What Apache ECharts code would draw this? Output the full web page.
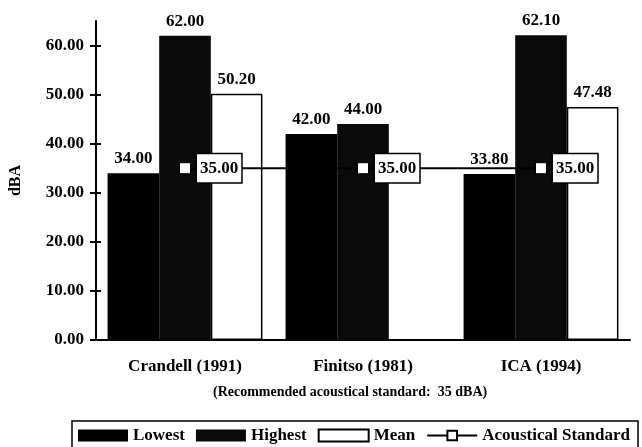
<!DOCTYPE html>
<html>
<head>
<meta charset="utf-8">
<script src="https://cdn.jsdelivr.net/npm/echarts@6/dist/echarts.min.js"></script>
<style>
  html, body { margin: 0; padding: 0; background: #fff; }
  #chart { width: 642px; height: 447px; }
</style>
</head>
<body>
<div id="chart"></div>
<script>
const categories = ['Crandell (1991)', 'Finitso (1981)', 'ICA (1994)'];
const lowest = [34.00, 42.00, 33.80];
const highest = [62.00, 44.00, 62.10];
const mean = [50.20, null, 47.48];
const standard = [35.00, 35.00, 35.00];
const yTicks = [0, 10, 20, 30, 40, 50, 60];

const serif = '"Liberation Serif", "DejaVu Serif", serif';
const fmt = p => p.value == null ? '' : Number(p.value).toFixed(2);

const barLabel = {
    show: true,
    position: 'top',
    distance: 6,
    formatter: fmt,
    color: '#000',
    fontFamily: serif,
    fontWeight: 'bold',
    fontSize: 17
};

const myChart = echarts.init(document.getElementById('chart'));

const option = {
    animation: false,
    backgroundColor: '#fff',
    textStyle: { fontFamily: serif, color: '#000' },
    grid: { left: 93, right: 12, top: 21, bottom: 107 },
    legend: {
        left: 72,
        top: 421,
        width: 600,
        padding: [6, 8, 10, 6],
        borderColor: '#000',
        borderWidth: 1.5,
        itemWidth: 50,
        itemHeight: 12,
        itemGap: 11,
        textStyle: { fontFamily: serif, fontWeight: 'bold', fontSize: 17, color: '#000' },
        data: [
            { name: 'Lowest', icon: 'rect' },
            { name: 'Highest', icon: 'rect' },
            { name: 'Mean', icon: 'rect' },
            { name: 'Acoustical Standard' }
        ]
    },
    graphic: [{
        type: 'text',
        left: 213,
        top: 385,
        style: {
            text: '(Recommended acoustical standard:  35 dBA)',
            font: 'bold 14px ' + serif,
            fill: '#000'
        }
    }],
    xAxis: [{
        type: 'category',
        data: categories,
        axisLine: { lineStyle: { color: '#000', width: 2 } },
        axisTick: { length: 6, lineStyle: { color: '#000', width: 2 } },
        axisLabel: {
            margin: 18,
            color: '#000',
            fontFamily: serif,
            fontWeight: 'bold',
            fontSize: 17
        }
    }, {
        type: 'category',
        data: categories,
        position: 'bottom',
        axisLine: { show: false },
        axisTick: { inside: true, length: 5, lineStyle: { color: '#000', width: 2 } },
        axisLabel: { show: false }
    }],
    yAxis: [{
        type: 'value',
        min: 0,
        max: 65,
        interval: 10,
        name: 'dBA',
        nameLocation: 'middle',
        nameGap: 72,
        nameRotate: 90,
        nameTextStyle: { fontFamily: serif, fontWeight: 'bold', fontSize: 16, color: '#000' },
        splitLine: { show: false },
        axisLine: { show: true, lineStyle: { color: '#000', width: 2 } },
        axisTick: { show: true, length: 6, customValues: yTicks, lineStyle: { color: '#000', width: 2 } },
        axisLabel: {
            customValues: yTicks,
            margin: 12,
            formatter: v => v.toFixed(2),
            color: '#000',
            fontFamily: serif,
            fontWeight: 'bold',
            fontSize: 17
        }
    }, {
        type: 'value',
        min: 0,
        max: 65,
        position: 'left',
        splitLine: { show: false },
        axisLine: { show: false },
        axisTick: { show: true, inside: true, length: 5, customValues: yTicks, lineStyle: { color: '#000', width: 2 } },
        axisLabel: { show: false }
    }],
    series: [
        {
            name: 'Lowest',
            type: 'bar',
            data: lowest,
            barGap: '0%',
            barCategoryGap: '13%',
            itemStyle: { color: '#000' },
            label: barLabel
        },
        {
            name: 'Highest',
            type: 'bar',
            data: highest,
            itemStyle: { color: '#0a0a0a' },
            label: barLabel
        },
        {
            name: 'Mean',
            type: 'bar',
            data: mean,
            itemStyle: { color: '#fff', borderColor: '#000', borderWidth: 1.5 },
            label: barLabel
        },
        {
            name: 'Acoustical Standard',
            type: 'line',
            data: standard,
            symbol: 'rect',
            symbolSize: 11,
            lineStyle: { color: '#000', width: 2 },
            itemStyle: { color: '#fff', borderColor: '#000', borderWidth: 1 },
            z: 5,
            label: {
                show: true,
                position: 'right',
                distance: 6,
                formatter: fmt,
                color: '#000',
                fontFamily: serif,
                fontWeight: 'bold',
                fontSize: 17,
                backgroundColor: '#fff',
                borderColor: '#000',
                borderWidth: 1.5,
                padding: [6, 3, 5, 3]
            }
        }
    ]
};

myChart.setOption(option);
</script>
</body>
</html>
